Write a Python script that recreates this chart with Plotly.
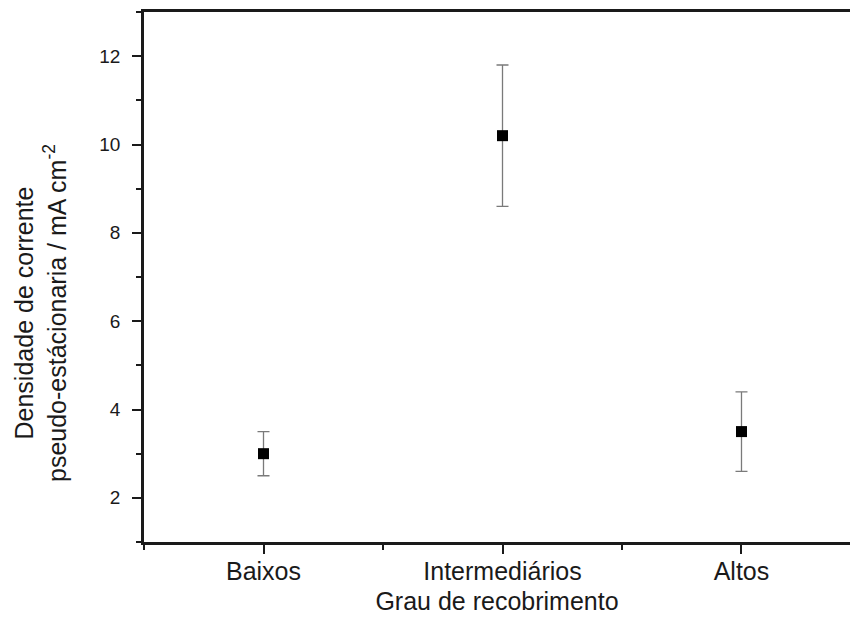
import plotly.graph_objects as go

# Current density by coverage degree
categories = ["Baixos", "Intermediários", "Altos"]
densidade = [3.0, 10.2, 3.5]
erro = [0.5, 1.6, 0.9]

pos = list(range(1, len(categories) + 1))

fig = go.Figure()
fig.add_trace(go.Scatter(
    x=pos, y=densidade, mode="markers",
    marker=dict(symbol="square", size=11, color="black"),
    error_y=dict(type="data", array=erro, visible=True,
                 color="#7a7a7a", thickness=1.3, width=6),
    showlegend=False,
))

font_family = "Liberation Sans, Arial, sans-serif"
ink = "#1a1a1a"

fig.update_layout(
    width=850, height=620,
    margin=dict(l=144, r=0, t=12, b=78),
    paper_bgcolor="white", plot_bgcolor="white",
    font=dict(family=font_family, size=20, color=ink),
    xaxis=dict(
        range=[0.5, 3.454], tickmode="array", tickvals=pos, ticktext=categories,
        showgrid=False, zeroline=False, showline=True, linecolor=ink,
        linewidth=2.5, mirror=True, ticks="outside", ticklen=9, tickwidth=2,
        tickcolor=ink, tickfont=dict(size=25), ticklabelstandoff=-4,
        minor=dict(tickvals=[0.5, 1.5, 2.5], ticks="outside", ticklen=5,
                   tickwidth=2, tickcolor=ink),
        title=dict(text="Grau de recobrimento", font=dict(size=25), standoff=9),
    ),
    yaxis=dict(
        range=[1, 13], tickmode="array", tickvals=[2, 4, 6, 8, 10, 12],
        showgrid=False, zeroline=False, showline=True, linecolor=ink,
        linewidth=2.5, ticks="outside", ticklen=9, tickwidth=2,
        tickcolor=ink, tickfont=dict(size=19), ticklabelstandoff=8,
        minor=dict(tickvals=[1, 3, 5, 7, 9, 11, 13], ticks="outside", ticklen=5,
                   tickwidth=2, tickcolor=ink),
    ),
    annotations=[dict(
        text="Densidade de corrente<br>pseudo-estácionaria / mA cm<sup>-2</sup>",
        textangle=-90, font=dict(size=25, color=ink), align="center",
        xref="paper", yref="paper", x=0, y=0.5,
        xanchor="center", yanchor="middle", xshift=-104, yshift=-36,
        showarrow=False,
    )],
)

fig.write_html("out.html")
